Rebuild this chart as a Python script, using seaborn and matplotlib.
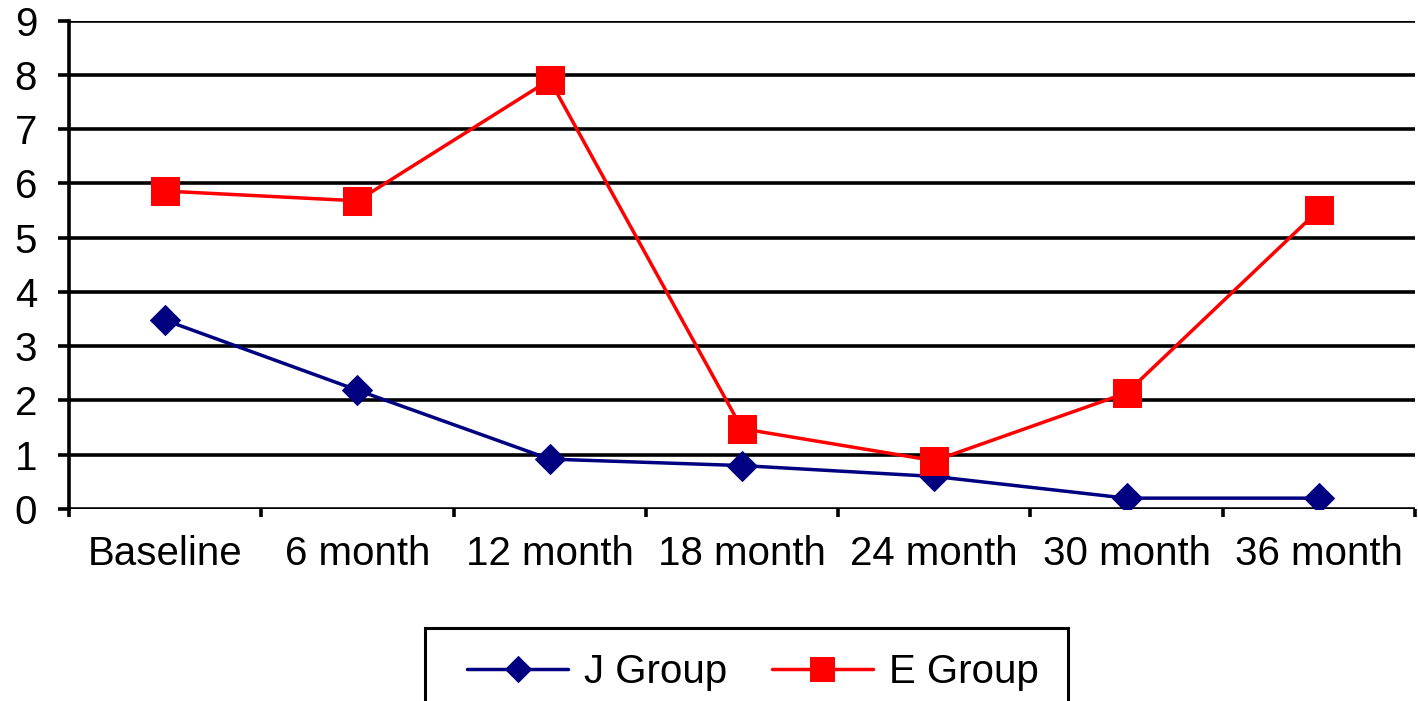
import numpy as np
import pandas as pd
import matplotlib
matplotlib.use("Agg")
import matplotlib.pyplot as plt
import seaborn as sns
from matplotlib.patches import Rectangle

# data
visits = ['Baseline', '6 month', '12 month', '18 month', '24 month', '30 month', '36 month']
j_group = [3.48, 2.19, 0.92, 0.80, 0.60, 0.20, 0.20]
e_group = [5.86, 5.68, 7.91, 1.48, 0.89, 2.14, 5.51]
groups = ['J Group', 'E Group']

df = pd.DataFrame({
    'visit': visits * 2,
    'value': j_group + e_group,
    'group': ['J Group'] * len(visits) + ['E Group'] * len(visits),
})

sns.set_style('white')
plt.rcParams['font.family'] = ['Liberation Sans', 'DejaVu Sans']
plt.rcParams['text.color'] = 'black'
plt.rcParams['xtick.color'] = 'black'
plt.rcParams['ytick.color'] = 'black'

fig = plt.figure(figsize=(14.18, 7.01), dpi=100)
ax = fig.add_axes([69/1418, 1 - 509/701, (1415 - 69)/1418, (509 - 20.7)/701])

sns.lineplot(data=df, x='visit', y='value', hue='group', style='group',
             palette={'J Group': '#000080', 'E Group': '#ff0000'},
             markers={'J Group': 'D', 'E Group': 's'}, dashes=False,
             sort=False, lw=2.5, legend=False, ax=ax)

sizes = {'J Group': 15, 'E Group': 20}
for line, g in zip(ax.get_lines(), groups):
    line.set_markeredgecolor(line.get_color())
    line.set_markersize(sizes[g])
    line.set_label(g)
    line.set_zorder(3)

ax.set_xlim(-0.5, len(visits) - 0.5)
ax.set_ylim(0, 9)
ax.set_yticks(range(0, 10))
ax.set_xticks(range(len(visits)))
ax.set_xticklabels(visits)
ax.set_xticks(np.arange(-0.5, len(visits), 1.0), minor=True)
ax.set_xlabel('')
ax.set_ylabel('')

ax.yaxis.grid(True, color='black', lw=2.6)
ax.set_axisbelow(True)
for s in ['top', 'right', 'bottom']:
    ax.spines[s].set_visible(False)
ax.spines['left'].set_linewidth(2.6)
ax.spines['left'].set_color('black')

ax.tick_params(axis='y', which='major', length=8, width=2.6, direction='out',
               labelsize=29, pad=15, left=True, labelcolor='black')
ax.tick_params(axis='x', which='major', length=0, labelsize=29, pad=19, labelcolor='black')
ax.tick_params(axis='x', which='minor', length=6, width=2.6, direction='out',
               bottom=True, color='black')

# legend below the plot, box runs off the bottom edge
fig.patches.append(Rectangle((425/1418, -0.05), (1068 - 425)/1418, 0.05 + 1 - 628/701,
                             transform=fig.transFigure, fill=False, ec='black', lw=2.2))
leg = fig.legend(handles=ax.get_lines(), labels=groups, loc='center',
                 bbox_to_anchor=(753/1418, 1 - 672/701), ncol=2, frameon=False,
                 fontsize=29, handlelength=2.5, handletextpad=0.4, columnspacing=1.1,
                 markerscale=0.85)

fig.savefig('out.png', dpi=100)
